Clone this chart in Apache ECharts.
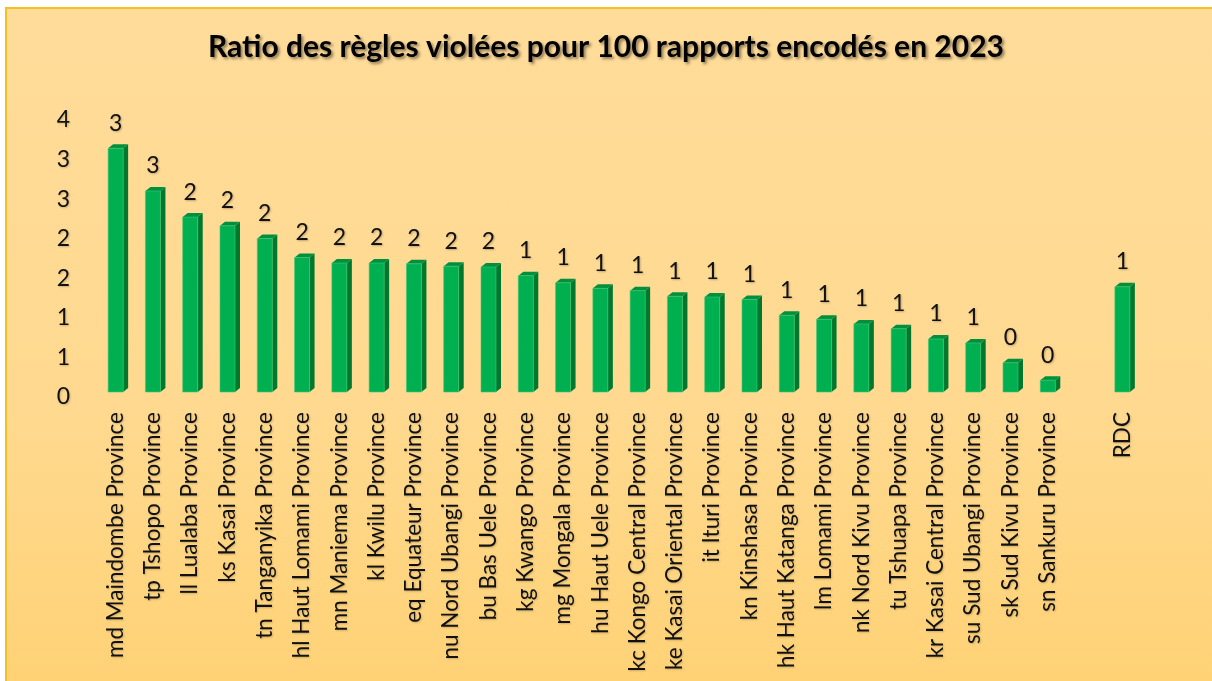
<!DOCTYPE html>
<html>
<head>
<meta charset="utf-8">
<script src="https://cdn.jsdelivr.net/npm/echarts@6/dist/echarts.min.js"></script>
<style>
  html, body { margin: 0; padding: 0; background: #fff; }
  #frame {
    position: absolute; left: 5px; top: 7px; width: 1207px; height: 674px;
    border-top: 2px solid #f5c021; border-left: 2px solid #f5c021;
    box-sizing: border-box;
    background: linear-gradient(180deg, #ffdc9a 0%, #ffd98f 60%, #ffd276 100%);
  }
  #chart { position: absolute; left: 0; top: 0; width: 1212px; height: 681px; }
</style>
</head>
<body>
<div id="frame"></div>
<div id="chart"></div>
<script>
var categories = [
  "md Maindombe Province", "tp Tshopo Province", "ll Lualaba Province", "ks Kasai Province",
  "tn Tanganyika Province", "hl Haut Lomami Province", "mn Maniema Province", "kl Kwilu Province",
  "eq Equateur Province", "nu Nord Ubangi Province", "bu Bas Uele Province", "kg Kwango Province",
  "mg Mongala Province", "hu Haut Uele Province", "kc Kongo Central Province", "ke Kasai Oriental Province",
  "it Ituri Province", "kn Kinshasa Province", "hk Haut Katanga Province", "lm Lomami Province",
  "nk Nord Kivu Province", "tu Tshuapa Province", "kr Kasai Central Province", "su Sud Ubangi Province",
  "sk Sud Kivu Province", "sn Sankuru Province", "", "RDC"
];
var ratios = [
  3.08, 2.54, 2.21, 2.10, 1.94, 1.70, 1.63, 1.63,
  1.62, 1.59, 1.58, 1.47, 1.38, 1.31, 1.28, 1.21,
  1.20, 1.17, 0.97, 0.92, 0.86, 0.80, 0.67, 0.62,
  0.37, 0.15, null, 1.33
];
var yTickLabels = ["0", "1", "1", "2", "2", "3", "3", "4"];

var chart = echarts.init(document.getElementById("chart"));

var textFont = "Lato, 'Noto Sans', sans-serif";
var barW = 15, depthX = 5, depthY = 4;

function renderBar(params, api) {
  var v = api.value(1);
  var base = api.coord([api.value(0), 0]);
  var top = api.coord([api.value(0), v]);
  var x0 = base[0] - barW / 2;
  var x1 = x0 + barW;
  var yb = base[1], yt = top[1];
  return {
    type: "group",
    children: [
      {
        type: "polygon",
        shape: { points: [[x1, yt], [x1 + depthX, yt - depthY], [x1 + depthX, yb - depthY], [x1, yb]] },
        style: { fill: "#00792f" }
      },
      {
        type: "polygon",
        shape: { points: [[x0, yt], [x0 + depthX, yt - depthY], [x1 + depthX, yt - depthY], [x1, yt]] },
        style: { fill: "#008f3c" }
      },
      {
        type: "rect",
        shape: { x: x0, y: yt, width: barW, height: yb - yt },
        style: { fill: "#00b050", stroke: "#3cc878", lineWidth: 0.6 }
      },
      {
        type: "text",
        x: x0 + barW / 2,
        y: yt - 25,
        style: {
          text: String(Math.round(v)),
          align: "center",
          verticalAlign: "middle",
          font: "23px " + textFont,
          fill: "#111",
          textShadowColor: "rgba(0,0,0,0.25)",
          textShadowBlur: 2,
          textShadowOffsetX: 1,
          textShadowOffsetY: 1
        }
      }
    ]
  };
}

var seriesData = [];
ratios.forEach(function (v, i) {
  if (v !== null) seriesData.push([i, v]);
});

var option = {
  backgroundColor: "transparent",
  title: {
    text: "Ratio des règles violées pour 100 rapports encodés en 2023",
    left: "center",
    top: 27,
    textStyle: {
      fontFamily: textFont,
      fontWeight: "bold",
      fontSize: 30,
      color: "#000",
      textShadowColor: "rgba(0,0,0,0.45)",
      textShadowBlur: 3,
      textShadowOffsetX: 2,
      textShadowOffsetY: 2
    }
  },
  grid: { left: 97, right: 71, top: 115, bottom: 289 },
  xAxis: {
    type: "category",
    data: categories,
    axisLine: { show: false },
    axisTick: { show: false },
    axisLabel: {
      interval: 0,
      rotate: 90,
      margin: 20,
      fontFamily: textFont,
      fontSize: 22.5,
      color: "#111",
      textShadowColor: "rgba(0,0,0,0.2)",
      textShadowBlur: 2,
      textShadowOffsetX: 1,
      textShadowOffsetY: 1
    }
  },
  yAxis: {
    type: "value",
    min: 0,
    max: 3.5,
    interval: 0.5,
    splitLine: { show: false },
    axisLine: { show: false },
    axisTick: { show: false },
    axisLabel: {
      margin: 27,
      verticalAlign: "top",
      lineHeight: 10,
      fontFamily: textFont,
      fontSize: 23,
      color: "#111",
      textShadowColor: "rgba(0,0,0,0.2)",
      textShadowBlur: 2,
      textShadowOffsetX: 1,
      textShadowOffsetY: 1,
      formatter: function (v) {
        return yTickLabels[Math.round(v / 0.5)];
      }
    }
  },
  series: [
    {
      type: "custom",
      renderItem: renderBar,
      encode: { x: 0, y: 1 },
      data: seriesData
    }
  ]
};
chart.setOption(option);
</script>
</body>
</html>
